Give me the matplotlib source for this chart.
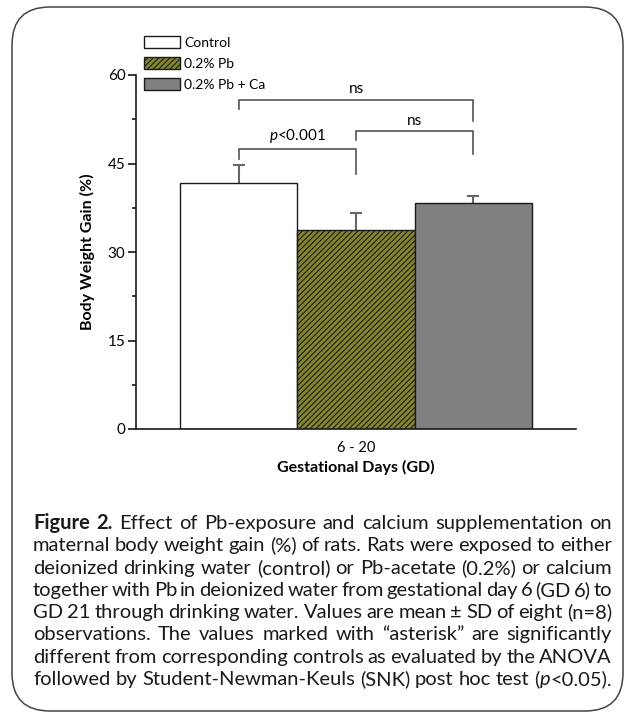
import matplotlib
matplotlib.use("Agg")
import matplotlib.pyplot as plt
from matplotlib.patches import FancyBboxPatch
from matplotlib.ticker import MultipleLocator

plt.rcParams['font.family'] = ['Lato', 'DejaVu Sans']
plt.rcParams['mathtext.fontset'] = 'custom'
plt.rcParams['mathtext.it'] = 'Lato:italic'
plt.rcParams['mathtext.rm'] = 'Lato'
plt.rcParams['hatch.linewidth'] = 0.8

# data
groups = ['Control', '0.2% Pb', '0.2% Pb + Ca']
gain_mean = [41.7, 33.7, 38.3]
gain_sd = [3.0, 2.9, 1.2]
period = '6 - 20'

# significance brackets: (left bar, right bar, label, bar height, left end, right end)
brackets = [
    (0, 1, '$p$<0.001', 47.5, 45.8, 43.2),
    (1, 2, 'ns', 50.5, 49.0, 46.6),
    (0, 2, 'ns', 55.8, 54.2, 52.2),
]

caption = [
    [('Figure', 'bold'), ('2.', 'bold'), 'Effect', 'of', 'Pb-exposure', 'and', 'calcium', 'supplementation', 'on'],
    'maternal body weight gain (%) of rats. Rats were exposed to either'.split(),
    'deionized drinking water (control) or Pb-acetate (0.2%) or calcium'.split(),
    'together with Pb in deionized water from gestational day 6 (GD 6) to'.split(),
    'GD 21 through drinking water. Values are mean \u00b1 SD of eight (n=8)'.split(),
    'observations. The values marked with \u201casterisk\u201d are significantly'.split(),
    'different from corresponding controls as evaluated by the ANOVA'.split(),
    'followed by Student-Newman-Keuls (SNK) post hoc test'.split() + [[('(', 'normal'), ('p', 'italic'), ('<0.05).', 'normal')]],
]

W, H = 632, 717
fig = plt.figure(figsize=(W / 100, H / 100), dpi=100)

# overlay in pixel units for the frame and caption
bg = fig.add_axes([0, 0, 1, 1], zorder=0)
bg.set_xlim(0, W)
bg.set_ylim(H, 0)
bg.axis('off')
rad = 38
bg.add_patch(FancyBboxPatch((12 + rad, 7 + rad), 623 - 12 - 2 * rad, 711 - 7 - 2 * rad,
                            boxstyle='round,pad=%d' % rad, fc='none', ec='#444444', lw=1.1))

ax = fig.add_axes([136 / W, 1 - 429 / H, 440 / W, 354 / H], zorder=1)
ax.patch.set_alpha(0)

xs = [-1, 0, 1]
colors = ['white', '#86862c', '#808080']
hatches = [None, '//////', None]
for x, m, c, h, g in zip(xs, gain_mean, colors, hatches, groups):
    ax.bar(x, m, width=1.0, color=c, edgecolor='#1a1a1a', linewidth=1.0,
           hatch=h, label=g, zorder=2)
ax.errorbar(xs, gain_mean, yerr=gain_sd, fmt='none', ecolor='#666666',
            elinewidth=1.5, capsize=4, capthick=1.5, zorder=1)

for i, j, lab, top, yl, yr in brackets:
    ax.plot([xs[i], xs[i], xs[j], xs[j]], [yl, top, top, yr],
            color='#555555', lw=1.2, zorder=3, solid_joinstyle='miter')
    ax.text((xs[i] + xs[j]) / 2, top + 0.6, lab, ha='center', va='bottom', fontsize=11)

ax.set_xlim(-1.88, 1.88)
ax.set_ylim(0, 60)
ax.yaxis.set_major_locator(MultipleLocator(15))
ax.yaxis.set_minor_locator(MultipleLocator(7.5))
ax.set_xticks([0])
ax.set_xticklabels([period], fontsize=10.5)
ax.tick_params(axis='x', length=0, pad=9)
ax.tick_params(axis='y', which='major', length=5.5, width=1.1, pad=2, labelsize=11)
ax.tick_params(axis='y', which='minor', length=3, width=1.1)
for s in ['top', 'right']:
    ax.spines[s].set_visible(False)
for s in ['left', 'bottom']:
    ax.spines[s].set_linewidth(1.2)
    ax.spines[s].set_color('#1a1a1a')

ax.set_xlabel('Gestational Days (GD)', fontsize=11.5, fontweight='bold', labelpad=3)
ax.set_ylabel('Body Weight Gain (%)', fontsize=11.5, fontweight='bold', labelpad=9)

ax.legend(loc='upper left', bbox_to_anchor=(144 / W, 1 - 36 / H), bbox_transform=fig.transFigure,
          frameon=False, borderpad=0, borderaxespad=0, handlelength=2.6, handleheight=0.95,
          handletextpad=0.3, labelspacing=0.6, fontsize=10)

# justified caption, word by word, on a common (whole-pixel) baseline
fig.canvas.draw()
r = fig.canvas.get_renderer()
x0, x1 = 33, 612
y0, dy = 529, 22.3
fs = 14.5


def parts(word):
    if isinstance(word, str):
        return [(word, 'normal')]
    if isinstance(word, tuple):
        return [word]
    return word


for k, line in enumerate(caption):
    y = round(y0 + k * dy)
    objs = []
    for word in line:
        wobjs = []
        for txt, st in parts(word):
            kw = dict(fontsize=fs, va='baseline', ha='left', color='#1a1a1a')
            if st == 'bold':
                kw['fontweight'] = 'bold'
            elif st == 'italic':
                kw['fontstyle'] = 'italic'
            t = bg.text(0, y, txt, **kw)
            wobjs.append((t, t.get_window_extent(r).width))
        objs.append(wobjs)
    total = sum(w for wo in objs for _, w in wo)
    gap = (x1 - x0 - total) / (len(objs) - 1)
    x = x0
    for wo in objs:
        for t, w in wo:
            t.set_x(x)
            x += w
        x += gap

fig.savefig('out.png', dpi=100)
